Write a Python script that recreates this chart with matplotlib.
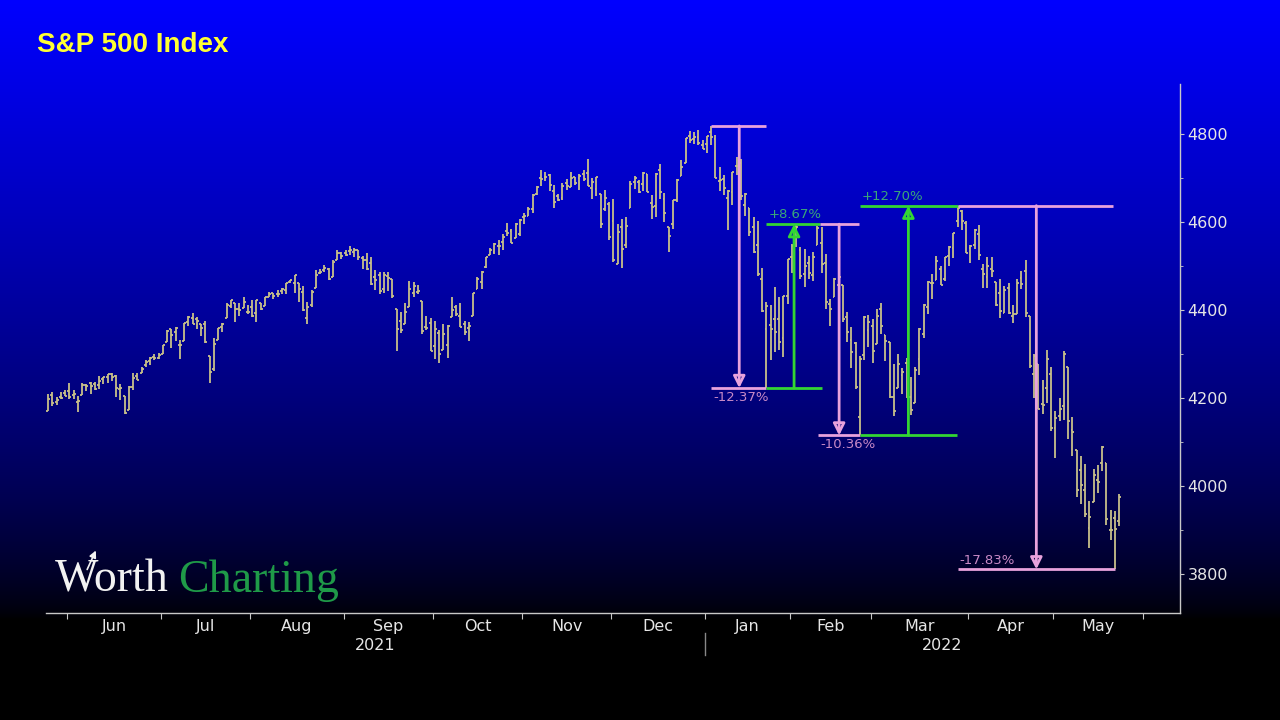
import numpy as np
import pandas as pd
import matplotlib
matplotlib.use('Agg')
import matplotlib.pyplot as plt

# S&P 500 daily bars, 24 May 2021 .. 23 May 2022 (one line per month)
opens = [
    4170.2, 4205.9, 4191.6, 4201.9, 4210.8,
    4216.5, 4206.8, 4191.4, 4206.1, 4229.3, 4233.8, 4232.0, 4228.6, 4242.9, 4248.3, 4255.3, 4248.9, 4220.4, 4204.8, 4173.4, 4224.6, 4249.3, 4256.0, 4274.5, 4284.9, 4293.2, 4290.7,
    4300.7, 4326.6, 4356.5, 4351.0, 4321.1, 4329.4, 4372.4, 4381.1, 4380.1, 4369.0, 4367.4, 4296.4, 4265.1, 4331.1, 4361.3, 4381.2, 4409.6, 4416.4, 4402.9, 4403.6, 4395.1,
    4406.9, 4392.7, 4415.9, 4408.9, 4429.1, 4437.8, 4435.8, 4442.2, 4446.1, 4464.8, 4461.7, 4462.1, 4440.9, 4382.4, 4410.6, 4450.3, 4484.4, 4490.5, 4493.8, 4474.1, 4513.8, 4529.8,
    4528.8, 4534.5, 4532.4, 4535.4, 4518.1, 4513.0, 4506.9, 4474.8, 4479.3, 4447.5, 4477.1, 4469.7, 4402.9, 4374.5, 4367.4, 4406.8, 4438.0, 4442.1, 4419.5, 4362.4, 4370.7,
    4317.2, 4348.8, 4309.9, 4319.6, 4383.7, 4406.5, 4385.4, 4368.3, 4358.0, 4386.8, 4447.7, 4463.7, 4497.3, 4524.4, 4532.2, 4546.1, 4553.7, 4578.7, 4580.2, 4562.8, 4572.9,
    4610.6, 4613.3, 4630.7, 4662.9, 4699.3, 4701.5, 4707.3, 4670.3, 4659.4, 4655.2, 4689.3, 4679.4, 4701.5, 4700.7, 4708.4, 4712.0, 4678.5, 4675.8, 4664.6, 4628.8, 4640.3,
    4602.8, 4504.7, 4589.5, 4548.4, 4632.0, 4690.9, 4691.0, 4687.6, 4710.3, 4643.0, 4636.5, 4719.1, 4652.5, 4587.9, 4595.0, 4650.4, 4704.0, 4734.0, 4795.5, 4788.6, 4794.2, 4775.2,
    4778.1, 4804.5, 4788.0, 4693.4, 4697.7, 4655.3, 4669.1, 4728.6, 4733.6, 4638.0, 4632.2, 4588.0, 4547.4, 4471.4, 4356.3, 4366.6, 4380.6, 4380.6, 4336.2, 4431.8,
    4519.6, 4566.4, 4535.4, 4482.8, 4505.8, 4480.0, 4547.0, 4553.2, 4506.3, 4412.6, 4429.3, 4455.8, 4456.1, 4384.6, 4332.7, 4324.9, 4155.8, 4298.4, 4354.2,
    4363.1, 4322.6, 4401.3, 4342.1, 4327.0, 4202.7, 4223.1, 4252.6, 4279.5, 4202.8, 4188.8, 4288.1, 4345.1, 4407.3, 4462.4, 4469.1, 4493.1, 4470.0, 4522.9, 4541.1, 4602.9, 4624.2, 4599.0,
    4540.3, 4548.0, 4572.5, 4494.2, 4474.7, 4494.2, 4462.6, 4437.6, 4394.3, 4449.1, 4385.6, 4390.6, 4472.3, 4489.2, 4385.8, 4255.3, 4278.1, 4186.5, 4222.6, 4253.8,
    4130.6, 4159.8, 4181.2, 4270.4, 4128.2, 4081.3, 4035.2, 3990.1, 3904.0, 3963.9, 4013.0, 4052.0, 4052.0, 3899.0, 3927.8, 3919.4,
]
highs = [
    4209.5, 4213.4, 4202.6, 4213.4, 4218.4,
    4234.1, 4217.4, 4204.4, 4233.5, 4232.3, 4236.7, 4237.1, 4249.7, 4248.4, 4255.6, 4257.2, 4251.9, 4232.3, 4204.8, 4226.2, 4255.8, 4256.6, 4271.3, 4286.1, 4292.1, 4300.5, 4302.4,
    4320.7, 4355.4, 4356.5, 4361.9, 4330.9, 4371.6, 4386.7, 4393.7, 4383.0, 4369.0, 4375.1, 4296.4, 4336.8, 4359.7, 4369.9, 4415.2, 4422.7, 4416.4, 4415.5, 4429.9, 4412.3,
    4422.2, 4423.8, 4416.2, 4429.8, 4440.8, 4439.4, 4445.2, 4449.4, 4461.8, 4468.4, 4480.3, 4462.1, 4454.3, 4418.6, 4444.4, 4489.9, 4492.8, 4501.7, 4495.9, 4513.3, 4537.4, 4531.4,
    4537.1, 4545.9, 4541.5, 4535.4, 4521.8, 4529.9, 4520.5, 4492.0, 4485.7, 4486.9, 4485.9, 4471.5, 4402.9, 4394.9, 4416.8, 4465.4, 4463.1, 4457.3, 4419.5, 4385.6, 4382.6,
    4375.2, 4355.5, 4369.2, 4365.6, 4429.0, 4412.0, 4415.9, 4374.9, 4372.9, 4439.7, 4475.8, 4488.8, 4520.4, 4540.9, 4551.4, 4559.7, 4572.6, 4598.5, 4584.6, 4597.6, 4608.1,
    4620.3, 4635.2, 4663.5, 4683.0, 4718.5, 4714.9, 4708.5, 4684.9, 4664.6, 4688.5, 4697.4, 4714.9, 4701.5, 4708.8, 4717.8, 4743.8, 4699.4, 4702.9, 4664.6, 4672.9, 4646.0,
    4652.9, 4595.5, 4608.0, 4612.6, 4694.0, 4705.1, 4695.3, 4713.6, 4710.3, 4660.5, 4712.6, 4732.0, 4666.7, 4587.9, 4651.1, 4697.7, 4740.7, 4791.5, 4807.0, 4804.1, 4808.9, 4786.8,
    4796.6, 4818.6, 4797.7, 4725.0, 4708.0, 4673.0, 4714.1, 4748.8, 4744.1, 4665.1, 4632.2, 4611.6, 4602.1, 4494.5, 4417.4, 4411.0, 4453.2, 4428.7, 4432.7, 4516.9,
    4550.5, 4595.3, 4542.9, 4539.7, 4521.9, 4531.3, 4590.0, 4588.9, 4526.3, 4426.2, 4472.8, 4489.6, 4456.1, 4394.6, 4362.1, 4326.5, 4294.7, 4385.3, 4388.8,
    4378.5, 4401.5, 4416.8, 4342.1, 4327.0, 4276.9, 4299.4, 4268.3, 4291.0, 4247.6, 4271.1, 4358.0, 4412.7, 4465.4, 4481.8, 4522.0, 4501.1, 4520.6, 4546.0, 4575.7, 4637.3, 4627.8, 4603.1,
    4548.7, 4583.5, 4593.5, 4503.9, 4521.2, 4520.6, 4464.4, 4471.0, 4453.9, 4460.5, 4410.3, 4471.5, 4488.3, 4512.9, 4385.8, 4299.0, 4278.1, 4240.7, 4308.5, 4269.7,
    4169.8, 4200.1, 4307.7, 4270.4, 4157.7, 4081.3, 4068.8, 4049.1, 3964.8, 4038.9, 4046.5, 4090.7, 4052.0, 3946.0, 3943.4, 3981.9,
]
lows = [
    4170.2, 4182.5, 4184.1, 4197.8, 4203.6,
    4197.6, 4198.3, 4167.9, 4206.1, 4215.7, 4208.4, 4218.7, 4220.3, 4232.3, 4234.1, 4238.4, 4202.5, 4196.1, 4164.4, 4173.4, 4217.3, 4241.4, 4256.0, 4271.2, 4274.7, 4287.0, 4287.8,
    4300.7, 4326.6, 4314.4, 4329.8, 4289.4, 4329.4, 4364.0, 4368.5, 4356.3, 4340.7, 4324.8, 4233.1, 4262.1, 4331.1, 4350.1, 4381.2, 4405.5, 4372.5, 4387.0, 4403.6, 4389.9,
    4384.8, 4373.0, 4400.2, 4408.9, 4429.1, 4424.7, 4430.0, 4436.4, 4435.5, 4460.8, 4437.7, 4417.8, 4397.6, 4367.7, 4406.8, 4450.3, 4482.7, 4485.7, 4468.9, 4474.1, 4513.8, 4515.8,
    4522.0, 4524.7, 4521.7, 4513.0, 4493.9, 4492.1, 4457.7, 4445.7, 4435.5, 4438.4, 4443.8, 4427.8, 4305.9, 4347.9, 4367.4, 4406.8, 4430.3, 4436.2, 4346.3, 4355.1, 4306.2,
    4288.5, 4278.9, 4309.9, 4290.5, 4383.7, 4386.2, 4360.6, 4342.1, 4329.9, 4386.8, 4447.7, 4447.5, 4496.4, 4524.4, 4526.9, 4524.0, 4537.4, 4569.2, 4551.7, 4562.8, 4567.6,
    4595.1, 4613.3, 4621.2, 4662.6, 4681.3, 4694.4, 4670.9, 4630.9, 4648.3, 4650.8, 4672.9, 4679.4, 4684.4, 4672.8, 4694.2, 4682.2, 4652.7, 4659.9, 4585.4, 4625.3, 4560.0,
    4510.3, 4504.7, 4495.1, 4540.5, 4632.0, 4674.5, 4666.0, 4670.2, 4667.6, 4606.5, 4611.2, 4651.9, 4600.2, 4531.1, 4583.2, 4645.5, 4704.0, 4734.0, 4780.0, 4778.1, 4775.3, 4765.8,
    4758.2, 4774.3, 4699.4, 4671.3, 4662.7, 4582.2, 4638.3, 4706.7, 4650.3, 4614.8, 4568.7, 4530.2, 4478.0, 4395.3, 4222.6, 4287.1, 4304.8, 4309.5, 4292.5, 4414.0,
    4483.5, 4544.3, 4470.4, 4451.5, 4471.5, 4465.4, 4547.0, 4484.3, 4401.4, 4364.8, 4429.3, 4429.7, 4373.8, 4327.2, 4267.1, 4221.5, 4114.7, 4286.8, 4315.1,
    4279.5, 4322.6, 4345.6, 4285.0, 4199.9, 4157.9, 4223.1, 4209.8, 4200.5, 4161.7, 4187.9, 4252.0, 4335.7, 4390.6, 4424.3, 4469.1, 4455.8, 4465.2, 4501.1, 4517.7, 4589.7, 4581.3, 4530.4,
    4507.6, 4539.2, 4514.2, 4450.0, 4450.3, 4474.6, 4408.4, 4381.3, 4392.7, 4390.8, 4370.3, 4390.6, 4448.8, 4384.5, 4267.6, 4200.8, 4175.0, 4162.9, 4188.6, 4124.3,
    4062.5, 4147.1, 4148.9, 4106.0, 4067.9, 3975.5, 3958.2, 3928.8, 3858.9, 3963.9, 3984.0, 4033.9, 3911.9, 3876.7, 3810.3, 3909.0,
]
closes = [
    4197.1, 4188.4, 4195.0, 4200.9, 4204.1,
    4202.0, 4208.1, 4192.9, 4229.9, 4226.5, 4227.3, 4219.6, 4239.2, 4247.4, 4255.2, 4246.6, 4223.7, 4221.9, 4166.5, 4224.8, 4246.4, 4241.8, 4266.5, 4280.7, 4290.6, 4291.8, 4297.5,
    4319.9, 4352.3, 4343.5, 4358.1, 4320.8, 4369.6, 4384.6, 4369.2, 4374.3, 4360.0, 4327.2, 4258.5, 4323.1, 4358.7, 4367.5, 4411.8, 4422.3, 4401.5, 4400.6, 4419.2, 4395.3,
    4387.2, 4423.2, 4402.7, 4429.1, 4436.5, 4432.4, 4436.8, 4447.7, 4460.8, 4468.0, 4479.7, 4448.1, 4400.3, 4405.8, 4441.7, 4479.5, 4486.2, 4496.2, 4470.0, 4509.4, 4528.8, 4522.7,
    4524.1, 4537.0, 4535.4, 4520.0, 4514.1, 4493.3, 4458.6, 4468.7, 4443.1, 4480.7, 4473.8, 4432.9, 4357.7, 4354.2, 4395.6, 4448.9, 4455.5, 4443.1, 4352.6, 4359.5, 4307.5,
    4357.0, 4300.5, 4345.7, 4363.6, 4399.8, 4391.3, 4361.2, 4350.7, 4363.8, 4438.3, 4471.4, 4486.5, 4519.6, 4536.9, 4549.8, 4544.9, 4566.5, 4574.8, 4551.7, 4596.4, 4605.4,
    4613.7, 4630.7, 4660.6, 4680.1, 4697.5, 4701.7, 4685.3, 4646.7, 4649.3, 4682.9, 4682.8, 4700.9, 4688.7, 4704.5, 4697.9, 4682.9, 4690.7, 4701.5, 4594.6, 4655.3, 4567.0,
    4513.0, 4577.1, 4538.4, 4591.7, 4686.8, 4701.2, 4667.5, 4712.0, 4669.0, 4634.1, 4709.9, 4668.7, 4620.6, 4568.0, 4649.2, 4696.6, 4725.8, 4791.2, 4786.4, 4793.1, 4778.7, 4766.2,
    4796.6, 4793.5, 4700.6, 4696.1, 4677.0, 4670.3, 4713.1, 4726.4, 4659.0, 4662.9, 4577.1, 4532.8, 4482.7, 4397.9, 4410.1, 4356.5, 4349.9, 4326.5, 4431.9, 4515.6,
    4546.5, 4589.4, 4477.4, 4500.5, 4483.9, 4521.5, 4587.2, 4504.1, 4418.6, 4401.7, 4471.1, 4475.0, 4380.3, 4349.0, 4304.8, 4225.5, 4288.7, 4384.7, 4373.9,
    4306.3, 4386.5, 4363.5, 4328.9, 4201.1, 4170.7, 4277.9, 4259.5, 4204.3, 4173.1, 4262.5, 4357.9, 4411.7, 4463.1, 4461.2, 4511.6, 4456.2, 4520.2, 4543.1, 4575.5, 4631.6, 4602.5, 4530.4,
    4545.9, 4582.6, 4525.1, 4481.2, 4500.2, 4488.3, 4412.5, 4397.5, 4446.6, 4392.6, 4391.7, 4462.2, 4459.5, 4393.7, 4271.8, 4296.1, 4175.2, 4184.0, 4287.5, 4131.9,
    4155.4, 4175.5, 4300.2, 4146.9, 4123.3, 3991.2, 4001.1, 3935.2, 3930.1, 4023.9, 4008.0, 4088.9, 3923.7, 3900.8, 3901.4, 3973.8,
]

holidays = ['2021-05-31', '2021-07-05', '2021-09-06', '2021-11-25', '2021-12-24',
            '2022-01-17', '2022-02-21', '2022-04-15', '2022-05-30']

# measured moves drawn on the chart (price level, bar index span, colour)
h_segments = [
    (4818.6, 156.0, 169.0, 'pink'),
    (4222.6, 156.0, 169.0, 'pink'), (4222.6, 169.0, 182.0, 'green'),
    (4595.3, 169.0, 181.5, 'green'), (4595.3, 181.5, 190.8, 'pink'),
    (4114.7, 181.2, 191.0, 'pink'), (4114.7, 191.0, 213.9, 'green'),
    (4637.3, 191.0, 214.0, 'green'), (4637.3, 214.0, 250.6, 'pink'),
    (3810.3, 214.0, 251.0, 'pink'),
]
arrows = [
    (162.6, 4818.6, 4222.6, 'pink'),
    (175.5, 4222.6, 4595.3, 'green'),
    (186.1, 4595.3, 4114.7, 'pink'),
    (202.4, 4114.7, 4637.3, 'green'),
    (232.5, 4637.3, 3810.3, 'pink'),
]
move_labels = [
    (156.5, 4222.6, '-12.37%', 'pink', 'top'),
    (169.5, 4595.3, '+8.67%', 'green', 'bottom'),
    (181.8, 4114.7, '-10.36%', 'pink', 'top'),
    (191.5, 4637.3, '+12.70%', 'green', 'bottom'),
    (214.5, 3810.3, '-17.83%', 'pink', 'bottom'),
]

line_col = {'pink': '#e8a2dc', 'green': '#33d633'}
text_col = {'pink': '#c98ac6', 'green': '#3aa878'}
bar_col = '#c8c08a'
axis_col = '#c8c8c8'

# trading calendar (extends to 1 June 2022 for the last month tick)
cal = pd.bdate_range('2021-05-24', '2022-06-03')
cal = cal[~cal.isin(pd.to_datetime(holidays))]
n = len(closes)
x = np.arange(n)

fig = plt.figure(figsize=(12.8, 7.2), dpi=100)

# blue-to-black backdrop
bg = fig.add_axes([0, 0, 1, 1], zorder=-10)
yy = np.linspace(0, 1, 720)
blue = np.clip(1 - yy / 0.86, 0, 1) ** 0.7
img = np.zeros((720, 1, 3))
img[:, 0, 2] = blue
bg.imshow(img, aspect='auto', extent=[0, 1, 0, 1], interpolation='bilinear')
bg.axis('off')

ax = fig.add_axes([46 / 1280, 107 / 720, 1134 / 1280, 529 / 720])
ax.set_facecolor('none')

# OHLC bars
ax.vlines(x, lows, highs, color=bar_col, lw=1.3, zorder=2)
ax.hlines(opens, x - 0.45, x, color=bar_col, lw=1.3, zorder=2)
ax.hlines(closes, x, x + 0.45, color=bar_col, lw=1.3, zorder=2)

for lvl, x0, x1, c in h_segments:
    ax.plot([x0, x1], [lvl, lvl], color=line_col[c], lw=2, solid_capstyle='butt', zorder=4)
for xa, y0, y1, c in arrows:
    ax.annotate('', xy=(xa, y1), xytext=(xa, y0),
                arrowprops=dict(arrowstyle='-|>,head_length=0.7,head_width=0.35',
                                ec=line_col[c], fc='none', lw=2, shrinkA=0, shrinkB=0),
                zorder=4)
for xl, yl, s, c, va in move_labels:
    dy = -2 if va == 'top' else 2
    ax.annotate(s, xy=(xl, yl), xytext=(0, dy), textcoords='offset points',
                ha='left', va=va, color=text_col[c], fontsize=9.5, zorder=5)

ax.set_xlim(-0.5, 266.3)
ax.set_ylim(3711, 4914)

for s in ['left', 'top']:
    ax.spines[s].set_visible(False)
for s in ['right', 'bottom']:
    ax.spines[s].set_color(axis_col)
    ax.spines[s].set_linewidth(1)

# y axis on the right
ax.yaxis.tick_right()
ax.set_yticks(np.arange(3800, 4801, 200))
ax.set_yticks(np.arange(3900, 4801, 200), minor=True)
ax.tick_params(axis='y', which='major', colors=axis_col, labelcolor='#e6e6e6',
               labelsize=11.5, length=3, pad=2.5)
ax.tick_params(axis='y', which='minor', colors=axis_col, length=2)

# month boundaries and centred month names
months = cal.to_period('M')
bounds = [i - 0.5 for i in range(1, len(cal)) if months[i] != months[i - 1]]
centers, names = [], []
for m in months.unique()[1:-1]:
    idx = np.where(months == m)[0]
    centers.append(idx.mean())
    names.append(m.strftime('%b'))
ax.set_xticks(bounds)
ax.set_xticklabels([])
ax.set_xticks(centers, minor=True)
ax.set_xticklabels(names, minor=True)
ax.tick_params(axis='x', which='major', colors=axis_col, length=4)
ax.tick_params(axis='x', which='minor', length=0, pad=4, labelcolor='#e6e6e6', labelsize=11.5)

jan = bounds[7]
trans = ax.get_xaxis_transform()
ax.plot([jan, jan], [-0.038, -0.08], transform=trans, color='#888888', lw=1, clip_on=False)
ax.text((ax.get_xlim()[0] + jan) / 2, -0.061, '2021', transform=trans, ha='center', va='center',
        color='#e6e6e6', fontsize=11.5)
ax.text((ax.get_xlim()[1] + jan) / 2, -0.061, '2022', transform=trans, ha='center', va='center',
        color='#e6e6e6', fontsize=11.5)

fig.text(37 / 1280, 1 - 45 / 720, 'S&P 500 Index', color='#ffff33', fontsize=20,
         fontweight='bold', family='Liberation Sans', va='center')

# watermark
fig.text(55 / 1280, 128 / 720, 'Worth', color='#f2f2f2', fontsize=33,
         family='Liberation Serif', va='baseline')
fig.text(178 / 1280, 128 / 720, 'Charting', color='#1f9a48', fontsize=33,
         family='Liberation Serif', va='baseline')
fig.add_artist(plt.matplotlib.patches.FancyArrowPatch(
    (86 / 1280, 148 / 720), (97 / 1280, 172 / 720), transform=fig.transFigure,
    arrowstyle='-|>,head_length=4,head_width=2', color='#f2f2f2', lw=1.2))

fig.savefig('out.png', dpi=100)
